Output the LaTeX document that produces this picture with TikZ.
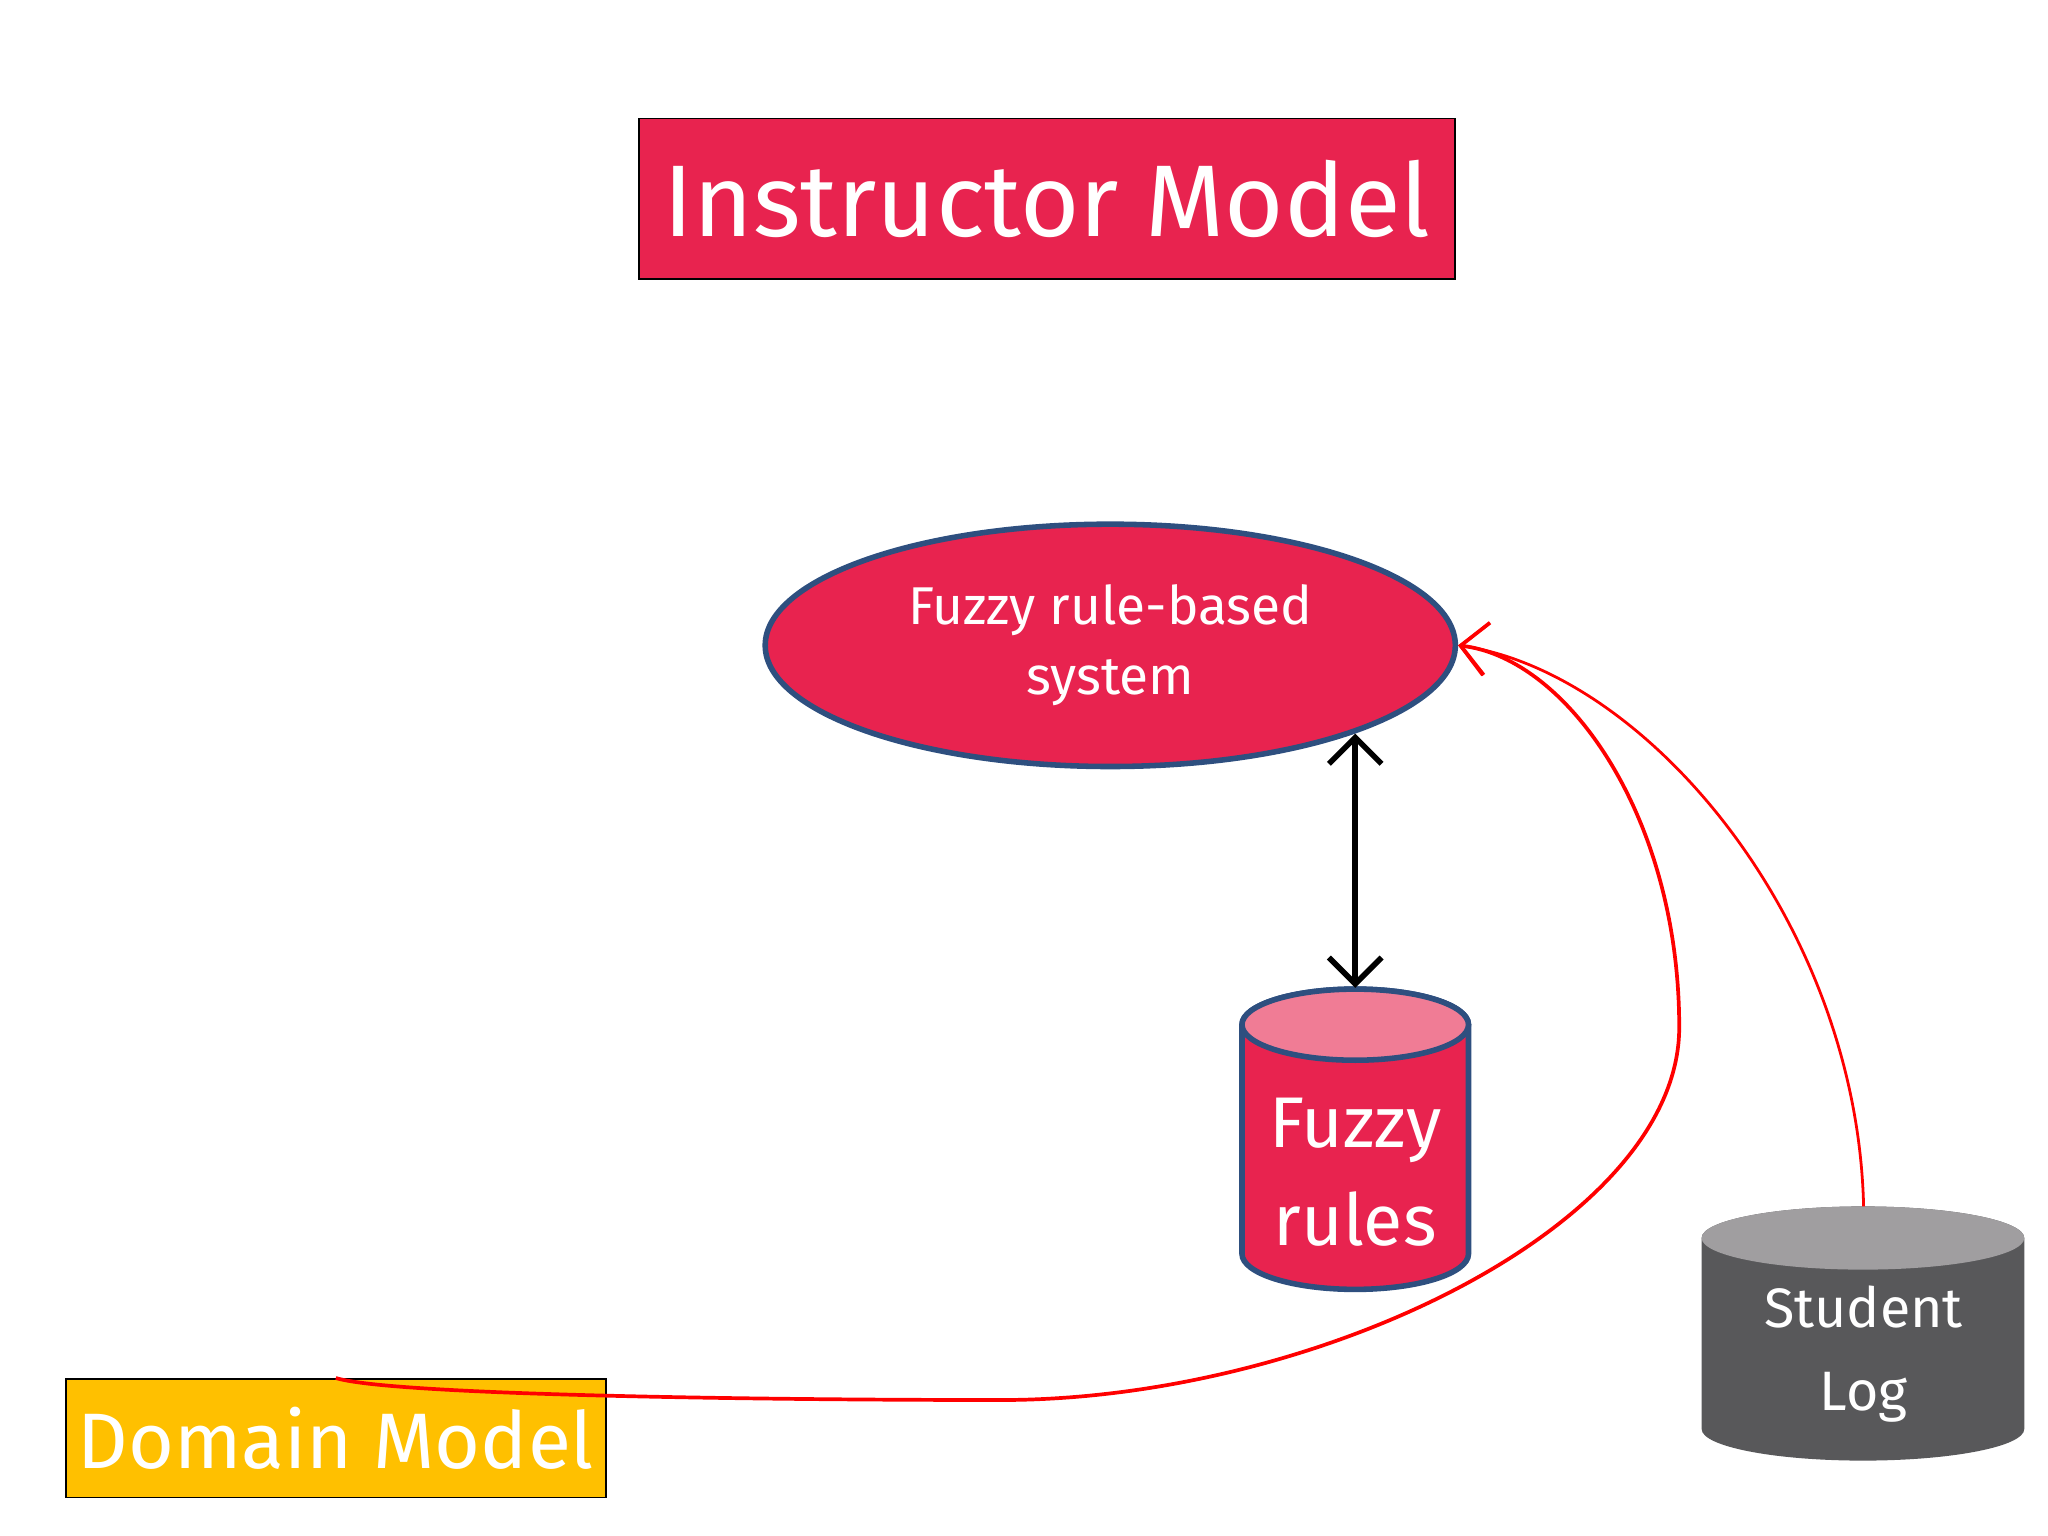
\documentclass[tikz,border=0pt]{standalone}
\usepackage{fontspec}
\setmainfont{Fira Sans}
\usetikzlibrary{arrows.meta,positioning,shapes.geometric}
\definecolor{crimson}{HTML}{E8234F}
\definecolor{pinktop}{HTML}{F07C95}
\definecolor{edgeblue}{HTML}{2E4F7F}
\definecolor{graytop}{HTML}{A09EA0}
\definecolor{graybody}{HTML}{58585A}
\definecolor{gold}{HTML}{FFC000}
\begin{document}
\begin{tikzpicture}[
    box/.style = {draw=black, thin, text=white, inner sep=0pt},
    flow/.style = {red, semithick, -{Straight Barb[length=2mm]}}
    ]
    \useasboundingbox (0,0) rectangle (15.55,-11.66);

    % title and domain boxes
    \node[box, fill=crimson, minimum width=6.2cm, minimum height=1.22cm,
          font=\fontsize{22}{26}\selectfont] (instr) at (7.95,-1.51) {Instructor Model};
    \node[box, fill=gold, minimum width=4.1cm, minimum height=0.9cm,
          font=\fontsize{17}{20}\selectfont] (domain) at (2.55,-10.92) {Domain Model};

    % fuzzy system
    \node[ellipse, draw=edgeblue, line width=1.2pt, fill=crimson, text=white, inner sep=0pt,
          minimum width=5.24cm, minimum height=1.84cm, align=center,
          font=\fontsize{11.5}{15}\selectfont] (fuzzy) at (8.43,-4.90) {Fuzzy rule-based\\system};
    \coordinate (fuzzybot) at (10.29,-5.57);

    % fuzzy rules cylinder
    \filldraw[draw=edgeblue, line width=1.2pt, fill=crimson]
      (9.43,-7.78) -- (9.43,-9.52) arc[start angle=180, end angle=360, x radius=0.86, y radius=0.27]
      -- (11.15,-7.78) arc[start angle=0, end angle=180, x radius=0.86, y radius=0.27];
    \filldraw[draw=edgeblue, line width=1.2pt, fill=pinktop] (10.29,-7.78) ellipse[x radius=0.86, y radius=0.27];
    \node[text=white, align=center, font=\fontsize{15.5}{21}\selectfont] (rules) at (10.29,-8.9) {Fuzzy\\rules};
    \coordinate (rulestop) at (10.29,-7.50);

    % student log cylinder
    \fill[graybody]
      (12.92,-9.40) -- (12.92,-10.85) arc[start angle=180, end angle=360, x radius=1.225, y radius=0.24]
      -- (15.37,-9.40) arc[start angle=0, end angle=180, x radius=1.225, y radius=0.24];
    \fill[graytop] (14.145,-9.40) ellipse[x radius=1.225, y radius=0.24];
    \node[text=white, align=center, font=\fontsize{12}{18}\selectfont] (log) at (14.15,-10.28) {Student\\Log};
    \coordinate (logtop) at (14.15,-9.16);

    % connectors
    \draw[{Straight Barb[length=2mm]}-{Straight Barb[length=2mm]}, very thick] (fuzzybot) -- (rulestop);
    \draw[flow, thick] (domain.north) .. controls (3.0,-10.60) and (6.0,-10.63) .. (7.6,-10.63)
      .. controls (10.0,-10.63) and (12.75,-9.3) .. (12.75,-7.8)
      .. controls (12.75,-6.2) and (11.9,-5.0) .. (fuzzy.east);
    \draw[flow] (logtop) .. controls (14.10,-7.0) and (12.5,-5.1) .. (fuzzy.east);
\end{tikzpicture}
\end{document}
